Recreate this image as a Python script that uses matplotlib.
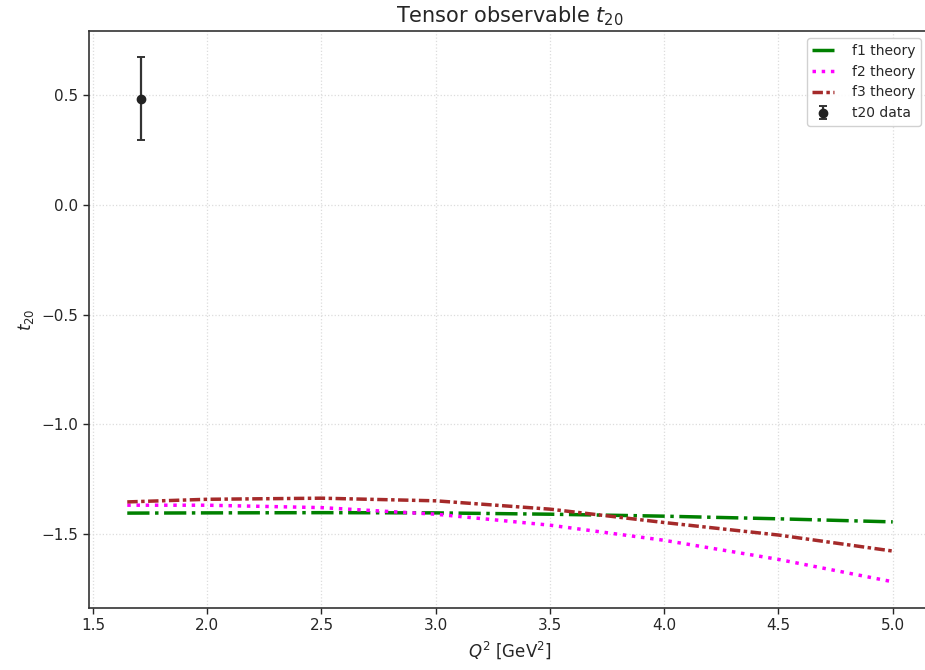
import numpy as np
import matplotlib
matplotlib.use("Agg")
import matplotlib.pyplot as plt

# theory curves
q2 = [1.65, 2.0, 2.5, 3.0, 3.5, 4.0, 4.5, 5.0]
f1_theory = [-1.405, -1.404, -1.403, -1.404, -1.410, -1.419, -1.431, -1.445]
f2_theory = [-1.369, -1.369, -1.380, -1.410, -1.460, -1.529, -1.616, -1.718]
f3_theory = [-1.354, -1.342, -1.337, -1.349, -1.387, -1.448, -1.505, -1.578]

# measured point
q2_data = [1.71]
t20_data = [0.484]
t20_err = [0.189]

text_col = "#262626"
plt.rcParams["text.color"] = text_col
plt.rcParams["axes.labelcolor"] = text_col
plt.rcParams["xtick.color"] = text_col
plt.rcParams["ytick.color"] = text_col

fig = plt.figure(figsize=(9.25, 6.7), dpi=100)
ax = fig.add_axes([89 / 925, 1 - 608 / 670, (931 - 89) / 925, (608 - 31) / 670])

ax.plot(q2, f1_theory, color="green", linestyle="-.", linewidth=2.5, label="f1 theory")
ax.plot(q2, f2_theory, color="magenta", linestyle=":", linewidth=2.5, label="f2 theory")
ax.plot(q2, f3_theory, color="brown", linestyle=(0, (3, 1, 1, 1)), linewidth=2.5, label="f3 theory")
ax.errorbar(q2_data, t20_data, yerr=t20_err, fmt="o", color="#222222", ecolor="#333333",
            markersize=6, elinewidth=1.6, capsize=3, capthick=1.4, label="t20 data")

ax.set_title("Tensor observable $t_{20}$", fontsize=15, color=text_col)
ax.set_xlabel("$Q^2$ [GeV$^2$]", fontsize=12)
ax.set_ylabel("$t_{20}$", fontsize=12)
ax.tick_params(labelsize=11, length=4, width=1)
ax.grid(True, linestyle=":", color="#dcdcdc", linewidth=0.9)
for s in ax.spines.values():
    s.set_color("#333333")
    s.set_linewidth(1.2)

x_anchor = (921 - 89) / 842
y_anchor = 1 - (38 - 31) / 577
leg = ax.legend(loc="upper right", fontsize=10, framealpha=0.9,
                bbox_to_anchor=(x_anchor, y_anchor), borderaxespad=0,
                handlelength=1.55, handletextpad=1.3)
leg.get_frame().set_edgecolor("#cccccc")

fig.savefig("out.png", dpi=100)
